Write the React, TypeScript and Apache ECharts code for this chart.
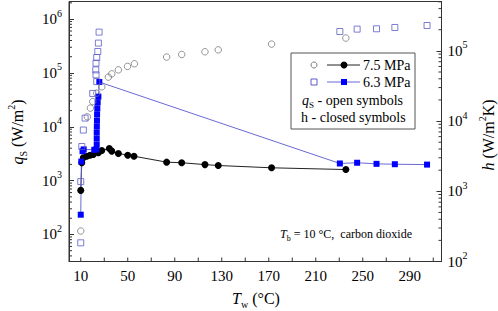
import React, { useEffect, useRef } from "react";
import * as echarts from "echarts";

const FONT = "Liberation Serif";

// 7.5 MPa — q_s (open circles, left axis)
const q75T = [10, 15.6, 18.2, 20.2, 23.6, 27.9, 33.5, 36.4, 42, 49.8, 55.7, 83.1, 95.9, 115.7, 127, 172.4, 235.6];
const q75 = [116, 15300, 22200, 29400, 42100, 55200, 83600, 96200, 114000, 132000, 148000, 197000, 220000, 247000, 268000, 343000, 444000];

// 6.3 MPa — q_s (open squares, left axis)
const q63T = [10, 10, 10.9, 12.2, 13.7, 20.2, 23.6, 23, 22.8, 23, 23.6, 24.5, 25, 25.6, 230.5, 245.2, 261.7, 277.3, 304.7];
const q63 = [70, 960, 4300, 8700, 14500, 41600, 69000, 92200, 114000, 152000, 193000, 250000, 358000, 573000, 588000, 651000, 660000, 698000, 760000];

// 7.5 MPa — h (closed circles, right axis)
const h75T = [10, 10.9, 12.2, 15.1, 17.9, 20.7, 25, 27.9, 34.3, 36.4, 42, 50, 55.3, 83.1, 95.9, 115.7, 127, 172.4, 235.6];
const h75 = [1030, 2550, 3000, 3160, 3270, 3340, 3540, 3810, 4070, 3730, 3460, 3270, 3160, 2600, 2550, 2400, 2330, 2160, 2040];

// 6.3 MPa — h (closed squares, right axis)
const h63T = [10, 10.5, 11.5, 12.5, 21.5, 23.2, 23.6, 23.6, 23.6, 23.7, 23.8, 23.9, 24.1, 24.4, 25, 25.8, 230.5, 245.2, 261.7, 277.3, 304.7];
const h63 = [464, 2650, 3730, 3950, 3900, 3950, 4640, 5660, 6900, 8400, 10200, 12500, 15200, 18500, 22300, 36000, 2490, 2550, 2460, 2430, 2400];

// axes
const xMin = 0;
const xMax = 317;
const xLabelValues = [10, 50, 90, 130, 170, 210, 250, 290];
const xTickValues = [10, 30, 50, 70, 90, 110, 130, 150, 170, 190, 210, 230, 250, 270, 290, 310];
const qMin = 31.5;
const qMax = 2.12e6;
const hMin = 100;
const hMax = 5.05e5;
const minorMultipliers = [2, 3, 4, 5, 6, 7, 8, 9];
const decades = [1, 10, 100, 1000, 10000, 100000, 1000000];

const minorTicks = (lo: number, hi: number) => {
  const out: number[] = [];
  decades.forEach((d) => minorMultipliers.forEach((m) => {
    const v = d * m;
    if (v > lo && v < hi) out.push(v);
  }));
  return out;
};

const pairs = (xs: number[], ys: number[]) => xs.map((x, i) => [x, ys[i]]);

const powLabel = (v: number) => {
  const l = Math.log10(v);
  const e = Math.round(l);
  if (Math.abs(l - e) > 1e-6) return "";
  return `{b|10}{s|${e}}`;
};

const powRich = {
  b: { fontSize: 15, fontFamily: FONT, color: "#000", lineHeight: 22 },
  s: { fontSize: 10, fontFamily: FONT, color: "#000", verticalAlign: "top" },
};

const AXIS_COLOR = "#333";

export default function App() {
  const ref = useRef<HTMLDivElement>(null);
  useEffect(() => {
    if (!ref.current) return;
    const chart = echarts.init(ref.current, undefined, { renderer: "svg" });

    const tickLine = (dx: number, dy: number) => (params: any, api: any) => {
      const p = api.coord([api.value(0), api.value(1)]);
      return {
        type: "line",
        shape: { x1: p[0], y1: p[1], x2: p[0] + dx, y2: p[1] + dy },
        style: { stroke: AXIS_COLOR, lineWidth: 1 },
      };
    };

    const titleRich = {
      n: { fontSize: 16, fontFamily: FONT, color: "#000", lineHeight: 22 },
      i: { fontSize: 16, fontFamily: FONT, fontStyle: "italic", color: "#000", lineHeight: 22 },
      sub: { fontSize: 10, fontFamily: FONT, color: "#000", verticalAlign: "bottom", lineHeight: 14 },
      sup: { fontSize: 10, fontFamily: FONT, color: "#000", verticalAlign: "top", lineHeight: 14 },
    };
    const legRich = {
      n: { fontSize: 14, fontFamily: FONT, color: "#000", lineHeight: 18 },
      i: { fontSize: 14, fontFamily: FONT, fontStyle: "italic", color: "#000", lineHeight: 18 },
      sub: { fontSize: 9, fontFamily: FONT, color: "#000", verticalAlign: "bottom", lineHeight: 12 },
    };
    const annRich = {
      n: { fontSize: 12, fontFamily: FONT, color: "#000", lineHeight: 16 },
      i: { fontSize: 12, fontFamily: FONT, fontStyle: "italic", color: "#000", lineHeight: 16 },
      sub: { fontSize: 8, fontFamily: FONT, color: "#000", verticalAlign: "bottom", lineHeight: 11 },
    };

    const legX = 291;
    const legY = 53;

    chart.setOption({
      animation: false,
      backgroundColor: "#fff",
      textStyle: { fontFamily: FONT },
      grid: {
        left: 69,
        right: 56.5,
        top: 1.5,
        bottom: 49.5,
        show: true,
        borderColor: AXIS_COLOR,
        borderWidth: 1,
        backgroundColor: "transparent",
      },
      xAxis: {
        type: "value",
        min: xMin,
        max: xMax,
        interval: 10,
        axisLine: { show: true, onZero: false, lineStyle: { color: AXIS_COLOR } },
        axisTick: { show: false },
        splitLine: { show: false },
        axisLabel: {
          margin: 7,
          fontSize: 15,
          fontFamily: FONT,
          color: "#000",
          formatter: (v: number) => (xLabelValues.includes(v) ? String(v) : ""),
        },
      },
      yAxis: [
        {
          type: "log",
          logBase: 10,
          min: qMin,
          max: qMax,
          position: "left",
          axisLine: { show: true, lineStyle: { color: AXIS_COLOR } },
          axisTick: { show: true, inside: true, length: 5, lineStyle: { color: AXIS_COLOR } },
          splitLine: { show: false },
          axisLabel: { margin: 7, fontFamily: FONT, formatter: powLabel, rich: powRich },
        },
        {
          type: "log",
          logBase: 10,
          min: hMin,
          max: hMax,
          position: "right",
          axisLine: { show: true, lineStyle: { color: AXIS_COLOR } },
          axisTick: { show: true, inside: true, length: 5, lineStyle: { color: AXIS_COLOR } },
          splitLine: { show: false },
          axisLabel: { margin: 6, fontFamily: FONT, formatter: powLabel, rich: powRich },
        },
      ],
      series: [
        {
          type: "custom",
          silent: true,
          clip: false,
          xAxisIndex: 0,
          yAxisIndex: 0,
          data: minorTicks(qMin, qMax).map((v) => [xMin, v]),
          renderItem: tickLine(3, 0),
        },
        {
          type: "custom",
          silent: true,
          clip: false,
          xAxisIndex: 0,
          yAxisIndex: 1,
          data: minorTicks(hMin, hMax).map((v) => [xMax, v]),
          renderItem: tickLine(-3, 0),
        },
        {
          type: "custom",
          silent: true,
          clip: false,
          xAxisIndex: 0,
          yAxisIndex: 0,
          data: xTickValues.map((t) => [t, qMin]),
          renderItem: tickLine(0, -4),
        },
        {
          name: "7.5 MPa h",
          type: "line",
          yAxisIndex: 1,
          data: pairs(h75T, h75),
          symbol: "circle",
          symbolSize: 7,
          itemStyle: { color: "#000" },
          lineStyle: { color: "#222", width: 1 },
          z: 3,
        },
        {
          name: "6.3 MPa h",
          type: "line",
          yAxisIndex: 1,
          data: pairs(h63T, h63),
          symbol: "rect",
          symbolSize: 6,
          itemStyle: { color: "#0000ff" },
          lineStyle: { color: "#6a6ad6", width: 1 },
          z: 3,
        },
        {
          name: "7.5 MPa qs",
          type: "scatter",
          yAxisIndex: 0,
          data: pairs(q75T, q75),
          symbol: "circle",
          symbolSize: 6.5,
          itemStyle: { color: "rgba(0,0,0,0)", borderColor: "#7a7a7a", borderWidth: 1 },
          z: 4,
        },
        {
          name: "6.3 MPa qs",
          type: "scatter",
          yAxisIndex: 0,
          data: pairs(q63T, q63),
          symbol: "rect",
          symbolSize: 6,
          itemStyle: { color: "rgba(0,0,0,0)", borderColor: "#5c5cc8", borderWidth: 1 },
          z: 4,
        },
      ],
      graphic: [
        // axis titles
        {
          type: "text",
          x: 17,
          y: 132,
          rotation: Math.PI / 2,
          style: {
            text: "{i|q}{sub|S}{n| (W/m}{sup|2}{n|)}",
            rich: titleRich,
            align: "center",
            verticalAlign: "middle",
          },
        },
        {
          type: "text",
          x: 488,
          y: 135,
          rotation: Math.PI / 2,
          style: {
            text: "{i|h}{n| (W/m}{sup|2}{n|K)}",
            rich: titleRich,
            align: "center",
            verticalAlign: "middle",
          },
        },
        {
          type: "text",
          x: 256,
          y: 298,
          style: {
            text: "{i|T}{sub|w}{n| (°C)}",
            rich: titleRich,
            align: "center",
            verticalAlign: "middle",
          },
        },
        // legend box
        {
          type: "group",
          x: legX,
          y: legY,
          children: [
            { type: "rect", shape: { x: 0, y: 0, width: 124, height: 76 }, style: { fill: "#fff", stroke: "#555", lineWidth: 1 } },
            { type: "circle", shape: { cx: 23, cy: 12, r: 3 }, style: { fill: "none", stroke: "#7a7a7a", lineWidth: 1 } },
            { type: "line", shape: { x1: 36, y1: 12, x2: 69, y2: 12 }, style: { stroke: "#222", lineWidth: 1 } },
            { type: "circle", shape: { cx: 53, cy: 12, r: 3.5 }, style: { fill: "#000" } },
            { type: "text", x: 72, y: 12, style: { text: "7.5 MPa", font: `14px ${FONT}`, fill: "#000", verticalAlign: "middle" } },
            { type: "rect", shape: { x: 20, y: 26, width: 6, height: 6 }, style: { fill: "none", stroke: "#5c5cc8", lineWidth: 1 } },
            { type: "line", shape: { x1: 36, y1: 29, x2: 69, y2: 29 }, style: { stroke: "#6a6ad6", lineWidth: 1 } },
            { type: "rect", shape: { x: 50, y: 26, width: 6, height: 6 }, style: { fill: "#0000ff" } },
            { type: "text", x: 72, y: 29, style: { text: "6.3 MPa", font: `14px ${FONT}`, fill: "#000", verticalAlign: "middle" } },
            { type: "text", x: 11, y: 47, style: { text: "{i|q}{sub|S}{n| - open symbols}", rich: legRich, verticalAlign: "middle" } },
            { type: "text", x: 10, y: 64, style: { text: "{n|h - closed symbols}", rich: legRich, verticalAlign: "middle" } },
          ],
        },
        // annotation
        {
          type: "text",
          x: 412,
          y: 234,
          style: {
            text: "{i|T}{sub|b}{n| = 10 °C,  carbon dioxide}",
            rich: annRich,
            align: "right",
            verticalAlign: "middle",
          },
        },
      ],
    });
    return () => chart.dispose();
  }, []);

  return (
    <div
      ref={ref}
      style={{ position: "absolute", left: 0, top: 0, width: 498, height: 311, background: "#fff" }}
    />
  );
}
